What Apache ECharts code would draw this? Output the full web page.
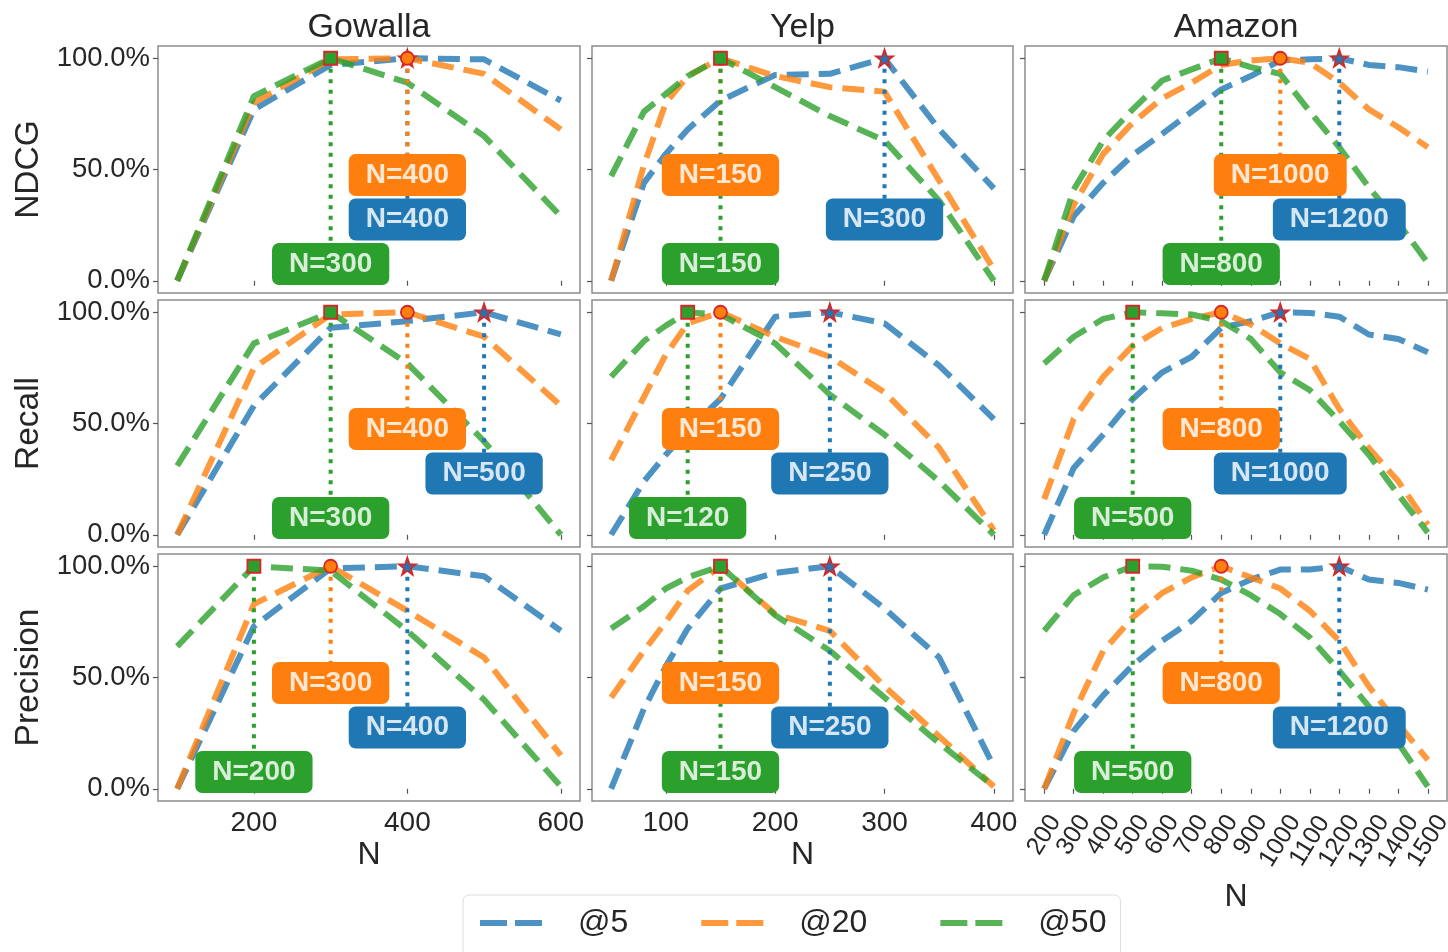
<!DOCTYPE html>
<html><head><meta charset="utf-8">
<script src="https://cdn.jsdelivr.net/npm/echarts@6/dist/echarts.min.js"></script>
<style>html,body{margin:0;padding:0;background:#fff}#c{width:1448px;height:952px}</style>
</head><body><div id="c"></div>
<script>
// ---------- DATA ----------
const datasetNames = ['Gowalla', 'Yelp', 'Amazon'];
const metricNames = ['NDCG', 'Recall', 'Precision'];
const seriesNames = ['@5', '@20', '@50'];

const xGowalla = [100, 200, 300, 400, 500, 600];
const xYelp = [50, 80, 100, 120, 150, 200, 250, 300, 350, 400];
const xAmazon = [200, 300, 400, 500, 600, 700, 800, 900, 1000, 1100, 1200, 1300, 1400, 1500];

const xTicksGowalla = [200, 400, 600];
const xTicksYelp = [100, 200, 300, 400];
const xTicksAmazon = [200, 300, 400, 500, 600, 700, 800, 900, 1000, 1100, 1200, 1300, 1400, 1500];
const yTicks = [0, 0.5, 1];

// Gowalla
const gowallaNdcg5  = [0, 0.77, 0.97, 1.0, 0.995, 0.81];
const gowallaNdcg20 = [0, 0.80, 0.995, 1.0, 0.93, 0.68];
const gowallaNdcg50 = [0, 0.83, 1.0, 0.89, 0.65, 0.29];
const gowallaRecall5  = [0, 0.58, 0.93, 0.96, 1.0, 0.90];
const gowallaRecall20 = [0, 0.75, 0.99, 1.0, 0.89, 0.58];
const gowallaRecall50 = [0.31, 0.86, 1.0, 0.77, 0.42, 0.0];
const gowallaPrec5  = [0, 0.73, 0.99, 1.0, 0.955, 0.71];
const gowallaPrec20 = [0, 0.83, 1.0, 0.80, 0.59, 0.15];
const gowallaPrec50 = [0.64, 1.0, 0.98, 0.71, 0.40, 0.01];

// Yelp
const yelpNdcg5  = [0, 0.44, 0.57, 0.68, 0.81, 0.925, 0.93, 1.0, 0.68, 0.415];
const yelpNdcg20 = [0, 0.52, 0.80, 0.92, 1.0, 0.92, 0.87, 0.85, 0.45, 0.05];
const yelpNdcg50 = [0.47, 0.76, 0.84, 0.92, 1.0, 0.87, 0.74, 0.63, 0.36, 0.0];
const yelpRecall5  = [0, 0.24, 0.36, 0.47, 0.61, 0.98, 1.0, 0.95, 0.76, 0.52];
const yelpRecall20 = [0.335, 0.62, 0.81, 0.95, 1.0, 0.89, 0.80, 0.64, 0.39, 0.02];
const yelpRecall50 = [0.71, 0.87, 0.94, 1.0, 0.99, 0.86, 0.63, 0.45, 0.24, 0.0];
const yelpPrec5  = [0, 0.36, 0.55, 0.72, 0.90, 0.97, 1.0, 0.81, 0.59, 0.10];
const yelpPrec20 = [0.41, 0.62, 0.75, 0.89, 1.0, 0.785, 0.71, 0.46, 0.235, 0.01];
const yelpPrec50 = [0.72, 0.82, 0.90, 0.95, 1.0, 0.78, 0.62, 0.41, 0.205, 0.01];

// Amazon
const amazonNdcg5  = [0, 0.29, 0.44, 0.565, 0.66, 0.76, 0.86, 0.92, 0.99, 0.995, 1.0, 0.97, 0.96, 0.94];
const amazonNdcg20 = [0, 0.34, 0.57, 0.71, 0.82, 0.89, 0.97, 0.99, 1.0, 0.98, 0.89, 0.77, 0.69, 0.60];
const amazonNdcg50 = [0, 0.41, 0.63, 0.77, 0.90, 0.95, 1.0, 0.96, 0.93, 0.76, 0.60, 0.42, 0.26, 0.08];
const amazonRecall5  = [0, 0.30, 0.45, 0.61, 0.73, 0.80, 0.93, 0.96, 1.0, 0.997, 0.98, 0.90, 0.88, 0.82];
const amazonRecall20 = [0.16, 0.52, 0.71, 0.85, 0.93, 0.97, 1.0, 0.945, 0.86, 0.79, 0.565, 0.39, 0.24, 0.045];
const amazonRecall50 = [0.77, 0.89, 0.97, 1.0, 0.995, 0.99, 0.96, 0.88, 0.73, 0.65, 0.51, 0.36, 0.18, 0.01];
const amazonPrec5  = [0, 0.26, 0.42, 0.555, 0.665, 0.755, 0.88, 0.94, 0.985, 0.985, 1.0, 0.94, 0.925, 0.895];
const amazonPrec20 = [0, 0.34, 0.62, 0.77, 0.88, 0.95, 1.0, 0.95, 0.90, 0.80, 0.665, 0.46, 0.29, 0.13];
const amazonPrec50 = [0.71, 0.87, 0.95, 1.0, 0.998, 0.98, 0.94, 0.87, 0.785, 0.68, 0.53, 0.37, 0.205, 0.01];

// best N per series [@5, @20, @50]
const gowallaNdcgPeaks = [400, 400, 300];
const gowallaRecallPeaks = [500, 400, 300];
const gowallaPrecPeaks = [400, 300, 200];
const yelpNdcgPeaks = [300, 150, 150];
const yelpRecallPeaks = [250, 150, 120];
const yelpPrecPeaks = [250, 150, 150];
const amazonNdcgPeaks = [1200, 1000, 800];
const amazonRecallPeaks = [1000, 800, 500];
const amazonPrecPeaks = [1200, 800, 500];

// ---------- LAYOUT / STYLE ----------
const FONT = "'Liberation Sans', Arial, sans-serif";
const TXT = '#262626';
const colors = ['#1f77b4', '#ff7f0e', '#2ca02c'];
const markerSymbols = [
  'path://M0,-10 L2.35,-3.24 L9.51,-3.09 L3.8,1.24 L5.88,8.09 L0,4 L-5.88,8.09 L-3.8,1.24 L-9.51,-3.09 L-2.35,-3.24 Z',
  'circle', 'rect'];
const markerSizes = [17, 13, 13];
const labelY = [0.275, 0.475, 0.075];

const colLeft = [158, 592, 1025];
const colWidth = [422, 421, 422];
const rowTop = [46, 300, 554];
const rowHeight = 247;
const xRange = [[75, 625], [32.5, 417.5], [135, 1565]];

const xValues = [xGowalla, xYelp, xAmazon];
const xTicks = [xTicksGowalla, xTicksYelp, xTicksAmazon];
const panelSeries = [
  [[gowallaNdcg5, gowallaNdcg20, gowallaNdcg50], [yelpNdcg5, yelpNdcg20, yelpNdcg50], [amazonNdcg5, amazonNdcg20, amazonNdcg50]],
  [[gowallaRecall5, gowallaRecall20, gowallaRecall50], [yelpRecall5, yelpRecall20, yelpRecall50], [amazonRecall5, amazonRecall20, amazonRecall50]],
  [[gowallaPrec5, gowallaPrec20, gowallaPrec50], [yelpPrec5, yelpPrec20, yelpPrec50], [amazonPrec5, amazonPrec20, amazonPrec50]]
];
const panelPeaks = [
  [gowallaNdcgPeaks, yelpNdcgPeaks, amazonNdcgPeaks],
  [gowallaRecallPeaks, yelpRecallPeaks, amazonRecallPeaks],
  [gowallaPrecPeaks, yelpPrecPeaks, amazonPrecPeaks]
];

const grids = [], xAxes = [], yAxes = [], series = [];

// rotated Amazon tick labels: split across label-only axes so neighbouring labels never get dropped
const amazonGroups = [
  xTicksAmazon.filter(v => v < 1000 && (v / 100) % 2 === 0),
  xTicksAmazon.filter(v => v < 1000 && (v / 100) % 2 === 1),
  xTicksAmazon.filter(v => v >= 1000 && (v / 100) % 2 === 0),
  xTicksAmazon.filter(v => v >= 1000 && (v / 100) % 2 === 1)
];
function amazonLabel(values) {
  return {
    show: true, customValues: values, rotate: 58, align: 'center', verticalAlign: 'middle',
    margin: values[0] >= 1000 ? 40 : 34, fontSize: 25, lineHeight: 16, color: TXT, fontFamily: FONT,
    hideOverlap: false, formatter: v => String(v)
  };
}

for (let r = 0; r < 3; r++) {
  for (let c = 0; c < 3; c++) {
    const g = r * 3 + c;
    grids.push({
      left: colLeft[c], top: rowTop[r], width: colWidth[c], height: rowHeight,
      show: true, borderColor: '#8c8c8c', borderWidth: 1.5, backgroundColor: 'transparent',
      containLabel: false, outerBoundsMode: 'none'
    });
    const isAmazon = c === 2;
    xAxes.push({
      gridIndex: g, type: 'value', position: 'bottom', min: xRange[c][0], max: xRange[c][1],
      axisLine: { show: false }, splitLine: { show: false },
      axisTick: { show: true, length: 5, lineStyle: { color: '#555', width: 1.2 }, customValues: xTicks[c] },
      axisLabel: r === 2 ? (isAmazon ? amazonLabel(amazonGroups[0]) : {
        show: true, customValues: xTicks[c], margin: 8, fontSize: 28, color: TXT, fontFamily: FONT,
        showMinLabel: true, showMaxLabel: true, formatter: v => String(v)
      }) : { show: false },
      name: r === 2 ? 'N' : '', nameLocation: 'middle', nameGap: isAmazon ? 80 : 38,
      nameMoveOverlap: false,
      nameTextStyle: { fontSize: 32, color: TXT, fontFamily: FONT }
    });
    yAxes.push({
      gridIndex: g, type: 'value', min: -0.055, max: 1.055,
      axisLine: { show: false }, splitLine: { show: false },
      axisTick: { show: true, length: 5, lineStyle: { color: '#555', width: 1.2 }, customValues: yTicks },
      axisLabel: c === 0 ? {
        show: true, customValues: yTicks, margin: 8, fontSize: 27.5, color: TXT, fontFamily: FONT,
        showMinLabel: true, showMaxLabel: true,
        formatter: v => (v * 100).toFixed(1) + '%'
      } : { show: false },
      name: c === 0 ? metricNames[r] : '', nameLocation: 'middle', nameGap: 112, nameRotate: 90,
      nameMoveOverlap: false,
      nameTextStyle: { fontSize: 33.5, color: TXT, fontFamily: FONT }
    });

    const xs = xValues[c];
    const peaks = panelPeaks[r][c];
    for (let k = 0; k < 3; k++) {
      const ys = panelSeries[r][c][k];
      series.push({
        type: 'line', name: seriesNames[k], xAxisIndex: g, yAxisIndex: g,
        data: xs.map((x, i) => [x, ys[i]]),
        symbol: 'none', silent: true, z: 2,
        itemStyle: { color: colors[k] },
        lineStyle: { color: colors[k], width: 6, type: [22, 10], opacity: 0.8, cap: 'butt', join: 'round' }
      });
    }
    for (let k = 0; k < 3; k++) {
      const ys = panelSeries[r][c][k];
      const peakVal = ys[xs.indexOf(peaks[k])];
      series.push({
        type: 'line', name: 'guide', xAxisIndex: g, yAxisIndex: g,
        data: [[peaks[k], peakVal], [peaks[k], labelY[k]]],
        symbol: 'none', silent: true, z: 3,
        lineStyle: { color: colors[k], width: 4, type: [4, 6.5], cap: 'butt' }
      });
    }
    for (let k = 0; k < 3; k++) {
      const ys = panelSeries[r][c][k];
      const peakVal = ys[xs.indexOf(peaks[k])];
      series.push({
        type: 'scatter', name: 'peak', xAxisIndex: g, yAxisIndex: g,
        data: [[peaks[k], peakVal]], silent: true, z: 4,
        symbol: markerSymbols[k], symbolSize: markerSizes[k],
        itemStyle: { color: colors[k], borderColor: '#d62728', borderWidth: 1.8, opacity: 1 }
      });
    }
    for (let k = 0; k < 3; k++) {
      series.push({
        type: 'scatter', name: 'label', xAxisIndex: g, yAxisIndex: g,
        data: [[peaks[k], labelY[k]]], silent: true, z: 6,
        symbolSize: 1, itemStyle: { color: 'rgba(0,0,0,0)', opacity: 1 },
        label: {
          show: true, position: 'inside', formatter: 'N=' + peaks[k], opacity: 1,
          backgroundColor: colors[k], borderRadius: 7, padding: [7, 17, 7, 17],
          color: 'rgba(255,255,255,0.82)', fontSize: 28, lineHeight: 28, fontWeight: 'bold', fontFamily: FONT
        }
      });
    }
  }
}

for (let j = 1; j < amazonGroups.length; j++) {
  xAxes.push({
    gridIndex: 8, type: 'value', position: 'bottom', offset: 0, min: xRange[2][0], max: xRange[2][1],
    axisLine: { show: false }, splitLine: { show: false }, axisTick: { show: false },
    axisLabel: amazonLabel(amazonGroups[j])
  });
}

const colCenters = colLeft.map((l, i) => l + colWidth[i] / 2);
const chart = echarts.init(document.getElementById('c'), null, { renderer: 'canvas' });
chart.setOption({
  animation: false,
  backgroundColor: '#ffffff',
  grid: grids, xAxis: xAxes, yAxis: yAxes, series: series,
  graphic: datasetNames.map((d, i) => ({
    type: 'text', x: colCenters[i], y: 28, silent: true,
    style: { text: d, fontSize: 34, fontFamily: FONT, fill: TXT, align: 'center', verticalAlign: 'middle' }
  })),
  legend: {
    data: seriesNames, left: 463, top: 895, orient: 'horizontal',
    itemWidth: 62, itemHeight: 20, itemGap: 70,
    padding: [12, 14, 24, 14],
    borderColor: '#dcdcdc', borderWidth: 1, borderRadius: 6, backgroundColor: '#fff',
    lineStyle: { width: 6, type: [27, 8], opacity: 0.8 },
    itemStyle: { opacity: 0 },
    textStyle: { fontSize: 32, color: TXT, fontFamily: FONT, padding: [0, 0, 0, 31] },
    selectedMode: false
  }
});
</script></body></html>
